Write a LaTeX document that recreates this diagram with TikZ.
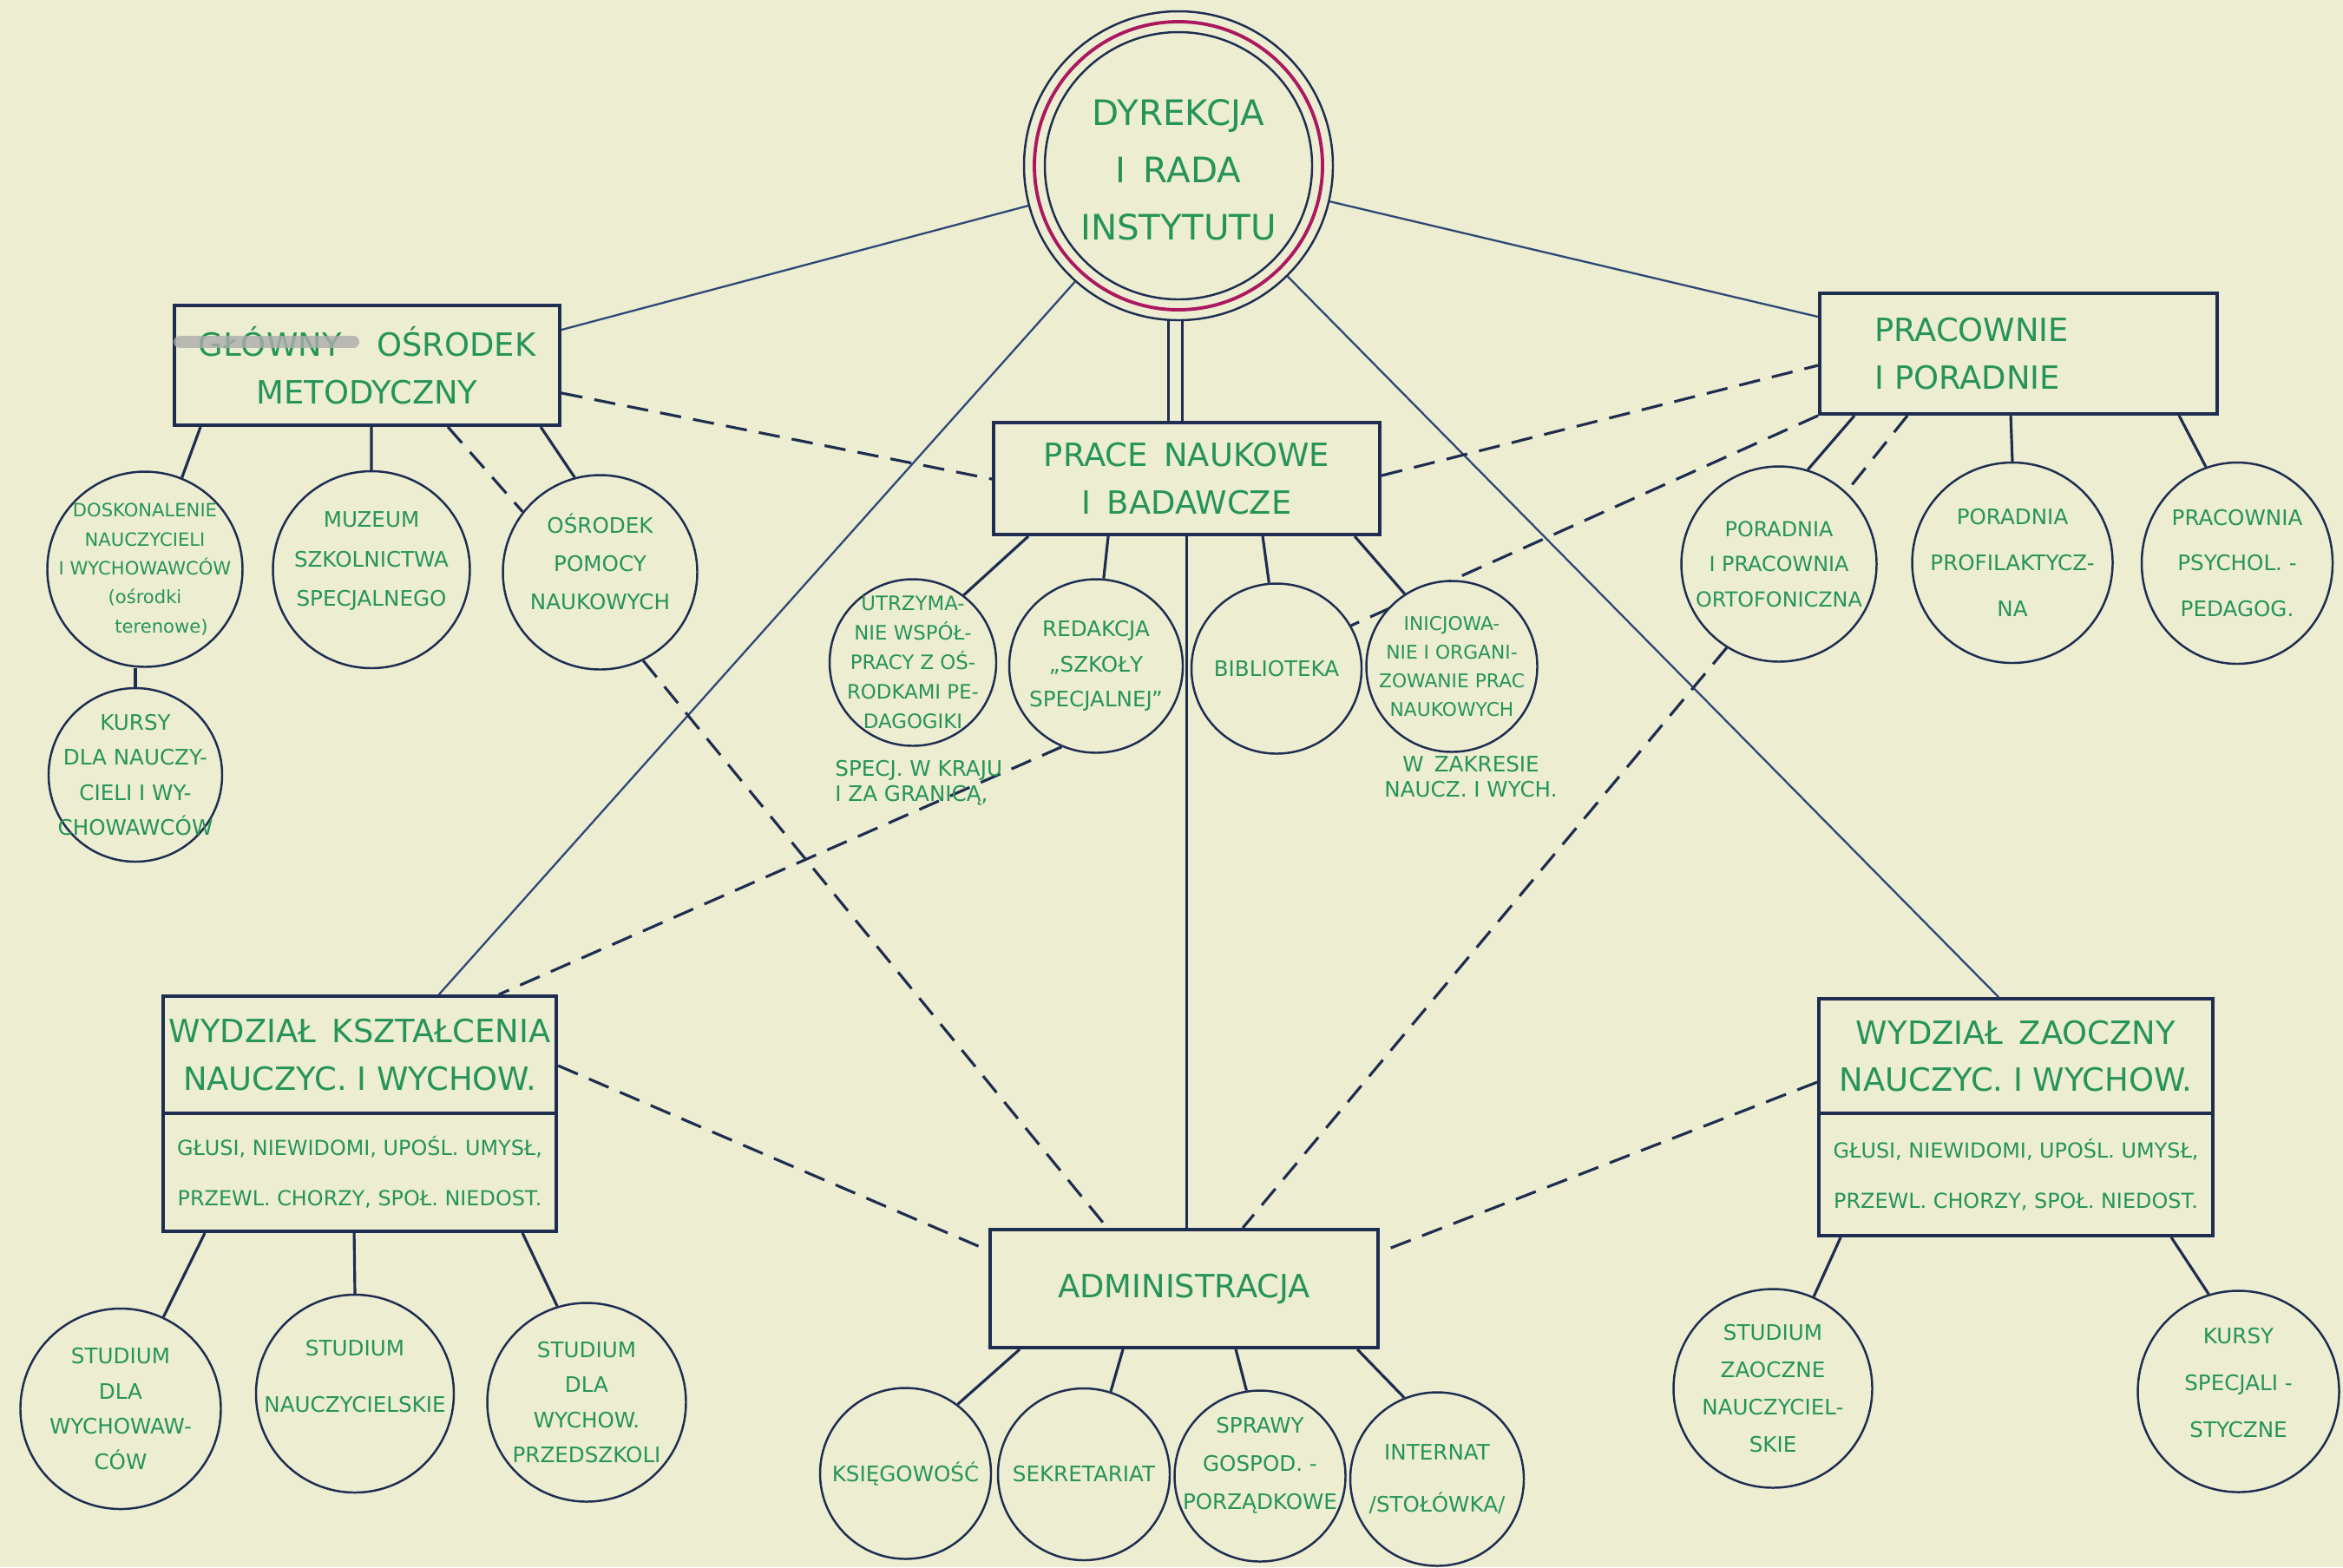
\documentclass[tikz,border=0pt]{standalone}
\usepackage{fontspec}
\setmainfont{DejaVu Sans}
\usetikzlibrary{positioning,shapes.geometric}
\definecolor{paper}{RGB}{237,237,210}
\definecolor{ink}{RGB}{30,45,80}
\definecolor{thinink}{RGB}{45,72,118}
\definecolor{pen}{RGB}{38,148,88}
\definecolor{rose}{RGB}{172,24,96}
\pgfdeclarelayer{bg}
\pgfsetlayers{bg,main}
\begin{document}
\begin{tikzpicture}[
    box/.style={draw=ink, line width=1.1pt, fill=paper, inner sep=2pt, text=pen,
        font=\fontsize{10.5}{15.5}\selectfont, align=center},
    smallbox/.style={box, font=\fontsize{6.8}{16.5}\selectfont},
    circ/.style={ellipse, draw=ink, line width=0.7pt, fill=paper, inner sep=0pt, minimum size=#1},
    ctext/.style={text=pen, font=\fontsize{7}{11.5}\selectfont, align=center},
    link/.style={draw=ink, line width=0.9pt},
    dashlink/.style={draw=ink, line width=0.9pt, dash pattern=on 7pt off 4pt},
    spoke/.style={draw=thinink, line width=0.65pt}
]
\useasboundingbox (0,0) rectangle (27,-18.06);

\node[circle, draw=ink, line width=0.7pt, fill=paper, minimum size=3.56cm] (dyr) at (13.58,-1.91) {};
\draw[rose, line width=1.1pt] (dyr.center) circle[radius=1.66cm];
\draw[ink, line width=0.7pt] (dyr.center) circle[radius=1.54cm];
\node[ctext, font=\fontsize{11.5}{18.8}\selectfont] (dyrT) at (13.58,-1.96) {DYREKCJA\\I\enspace RADA\\INSTYTUTU};

\node[box, minimum width=4.44cm, minimum height=1.38cm] (osr) at (4.23,-4.21) {GŁÓWNY\hspace{1.1em}OŚRODEK\\METODYCZNY};
\draw[gray!65, line width=4pt, line cap=round, opacity=0.8] ([xshift=0.08cm,yshift=-0.44cm]osr.north west) -- ++(2.0,0);
\node[box, minimum width=4.45cm, minimum height=1.29cm] (prace) at (13.675,-5.515) {PRACE\enspace NAUKOWE\\I\enspace BADAWCZE};
\node[box, minimum width=4.58cm, minimum height=1.39cm, align=left, text width=3.32cm] (prac) at (23.26,-4.075) {PRACOWNIE\\I PORADNIE};
\node[box, minimum width=4.53cm, minimum height=1.35cm] (wydzK) at (4.145,-12.155) {WYDZIAŁ\enspace KSZTAŁCENIA\\NAUCZYC. I WYCHOW.};
\node[smallbox, minimum width=4.53cm, minimum height=1.36cm, below=-1.1pt of wydzK] (grupyK) {GŁUSI, NIEWIDOMI, UPOŚL. UMYSŁ,\\PRZEWL. CHORZY, SPOŁ. NIEDOST.};
\node[box, minimum width=4.54cm, minimum height=1.32cm] (wydzZ) at (23.23,-12.17) {WYDZIAŁ\enspace ZAOCZNY\\NAUCZYC. I WYCHOW.};
\node[smallbox, minimum width=4.54cm, minimum height=1.41cm, below=-1.1pt of wydzZ] (grupyZ) {GŁUSI, NIEWIDOMI, UPOŚL. UMYSŁ,\\PRZEWL. CHORZY, SPOŁ. NIEDOST.};
\node[box, minimum width=4.47cm, minimum height=1.36cm] (adm) at (13.645,-14.85) {ADMINISTRACJA};

\node[circ=2.25cm, label={[ctext, font=\fontsize{6}{9.5}\selectfont]center:{DOSKONALENIE\\NAUCZYCIELI\\I WYCHOWAWCÓW\\(ośrodki\hspace{1.4em}\\\hspace{1.8em}terenowe)}}] (dosk) at (1.67,-6.56) {};
\node[circ=2.0cm, label={[ctext]center:{KURSY\\DLA NAUCZY-\\CIELI I WY-\\CHOWAWCÓW}}] (kursyN) at (1.56,-8.93) {};
\node[circ=2.27cm, label={[ctext, font=\fontsize{7}{13}\selectfont, yshift=0.1cm]center:{MUZEUM\\SZKOLNICTWA\\SPECJALNEGO}}] (muzeum) at (4.28,-6.565) {};
\node[circ=2.24cm, label={[ctext, font=\fontsize{7}{12.5}\selectfont, yshift=0.12cm]center:{OŚRODEK\\POMOCY\\NAUKOWYCH}}] (pomoce) at (6.915,-6.595) {};

\node[circ=1.92cm, label={[ctext, font=\fontsize{6.5}{9.7}\selectfont]center:{UTRZYMA-\\NIE WSPÓŁ-\\PRACY Z OŚ-\\RODKAMI PE-\\DAGOGIKI}}] (wspol) at (10.52,-7.635) {};
\node[circ=2.0cm, label={[ctext]center:{REDAKCJA\\„SZKOŁY\\SPECJALNEJ”}}] (redak) at (12.63,-7.675) {};
\node[circ=1.96cm, label={[ctext]center:{BIBLIOTEKA}}] (biblio) at (14.71,-7.705) {};
\node[circ=1.97cm, label={[ctext, font=\fontsize{6.2}{9.4}\selectfont]center:{INICJOWA-\\NIE I ORGANI-\\ZOWANIE PRAC\\NAUKOWYCH}}] (inicj) at (16.73,-7.68) {};
\node[ctext, font=\fontsize{7}{8.3}\selectfont, align=left, anchor=north west] (kraj) at (9.50,-8.64) {SPECJ. W KRAJU\\I ZA GRANICĄ,};
\node[ctext, font=\fontsize{7}{8.3}\selectfont] (zakres) at (16.95,-8.95) {W\enspace ZAKRESIE\\NAUCZ. I WYCH.};

\node[circ=2.25cm, label={[ctext, font=\fontsize{6.8}{11.5}\selectfont]center:{PORADNIA\\I PRACOWNIA\\ORTOFONICZNA}}] (orto) at (20.50,-6.50) {};
\node[circ=2.31cm, label={[ctext, font=\fontsize{7}{15}\selectfont]center:{PORADNIA\\PROFILAKTYCZ-\\NA}}] (profil) at (23.19,-6.485) {};
\node[circ=2.2cm, minimum height=2.32cm, label={[ctext, font=\fontsize{7}{15}\selectfont]center:{PRACOWNIA\\PSYCHOL. -\\PEDAGOG.}}] (psych) at (25.78,-6.49) {};

\node[circ=2.31cm, label={[ctext]center:{STUDIUM\\DLA\\WYCHOWAW-\\CÓW}}] (studW) at (1.39,-16.235) {};
\node[circ=2.28cm, label={[ctext, font=\fontsize{7}{18.5}\selectfont, yshift=0.2cm]center:{STUDIUM\\NAUCZYCIELSKIE}}] (studN) at (4.09,-16.06) {};
\node[circ=2.29cm, label={[ctext]center:{STUDIUM\\DLA\\WYCHOW.\\PRZEDSZKOLI}}] (studP) at (6.76,-16.16) {};

\node[circ=1.97cm, label={[ctext]center:{KSIĘGOWOŚĆ}}] (ksieg) at (10.435,-16.98) {};
\node[circ=1.98cm, label={[ctext]center:{SEKRETARIAT}}] (sekr) at (12.49,-16.99) {};
\node[circ=1.97cm, label={[ctext, font=\fontsize{7}{12.5}\selectfont, yshift=0.12cm]center:{SPRAWY\\GOSPOD. -\\PORZĄDKOWE}}] (gosp) at (14.52,-17.01) {};
\node[circ=2.0cm, label={[ctext, font=\fontsize{7}{17}\selectfont]center:{INTERNAT\\/STOŁÓWKA/}}] (intern) at (16.56,-17.045) {};

\node[circ=2.29cm, label={[ctext, font=\fontsize{7}{12.2}\selectfont]center:{STUDIUM\\ZAOCZNE\\NAUCZYCIEL-\\SKIE}}] (studZ) at (20.43,-16.0) {};
\node[circ=2.32cm, label={[ctext, font=\fontsize{7}{15.5}\selectfont, yshift=0.1cm]center:{KURSY\\SPECJALI -\\STYCZNE}}] (kursyS) at (25.795,-16.035) {};

\begin{pgfonlayer}{bg}
\fill[paper] (0,0) rectangle (27,-18.06);

\draw[spoke] (dyr) -- ([yshift=-0.30cm]osr.north east);
\draw[spoke] (dyr) -- ([yshift=-0.29cm]prac.north west);
\draw[spoke] (dyr) -- ([xshift=3.20cm]wydzK.north west);
\draw[spoke] (dyr) -- ([xshift=2.09cm]wydzZ.north west);
\draw[link, double=paper, double distance=0.13cm] ([xshift=-0.13cm]prace.north) -- ([xshift=-0.13cm]prace.north |- dyr.south);
\draw[link] (prace.south) -- (prace.south |- adm.north);

\draw[dashlink] ([yshift=0.39cm]osr.south east) -- ([yshift=-0.67cm]prace.north west);
\draw[dashlink] ([yshift=-0.63cm]prace.north east) -- ([yshift=-0.85cm]prac.north west);
\draw[dashlink] (prac.south west) -- (biblio.30);
\draw[dashlink] (redak.247) -- ([xshift=3.89cm]wydzK.north west);
\draw[dashlink] (pomoce.296) -- ([xshift=1.37cm]adm.north west);
\draw[dashlink] (orto.238) -- ([xshift=2.93cm]adm.north west);
\draw[dashlink] ([yshift=-0.82cm]wydzK.north east) -- ([yshift=-0.26cm]adm.north west);
\draw[dashlink] ([yshift=-0.98cm]wydzZ.north west) -- ([yshift=-0.28cm]adm.north east);

\draw[link] ([xshift=0.32cm]osr.south west) -- (dosk.68);
\draw[link] ([xshift=2.29cm]osr.south west) -- (muzeum.90);
\draw[dashlink] ([xshift=3.17cm]osr.south west) -- (pomoce.142);
\draw[link] ([xshift=4.24cm]osr.south west) -- (pomoce.105);
\draw[link] (dosk.south -| kursyN.north) -- (kursyN.north);

\draw[link] ([xshift=0.42cm]prace.south west) -- (wspol.53);
\draw[link] ([xshift=1.34cm]prace.south west) -- (redak.85);
\draw[link] ([xshift=3.12cm]prace.south west) -- (biblio.95);
\draw[link] ([xshift=4.18cm]prace.south west) -- (inicj.123);

\draw[link] ([xshift=0.42cm]prac.south west) -- (orto.73);
\draw[dashlink] ([xshift=1.03cm]prac.south west) -- (orto.47);
\draw[link] ([xshift=2.22cm]prac.south west) -- (profil.90);
\draw[link] ([xshift=4.16cm]prac.south west) -- (psych.108);

\draw[link] ([xshift=0.50cm]grupyK.south west) -- (studW.65);
\draw[link] ([xshift=2.22cm]grupyK.south west) -- (studN.90);
\draw[link] ([xshift=4.16cm]grupyK.south west) -- (studP.107);
\draw[link] ([xshift=0.27cm]grupyZ.south west) -- (studZ.66);
\draw[link] ([xshift=4.08cm]grupyZ.south west) -- (kursyS.107);

\draw[link] ([xshift=0.36cm]adm.south west) -- (ksieg.53);
\draw[link] ([xshift=1.55cm]adm.south west) -- (sekr.72);
\draw[link] ([xshift=2.85cm]adm.south west) -- (gosp.99);
\draw[link] ([xshift=4.25cm]adm.south west) -- (intern.112);
\end{pgfonlayer}
\end{tikzpicture}
\end{document}
